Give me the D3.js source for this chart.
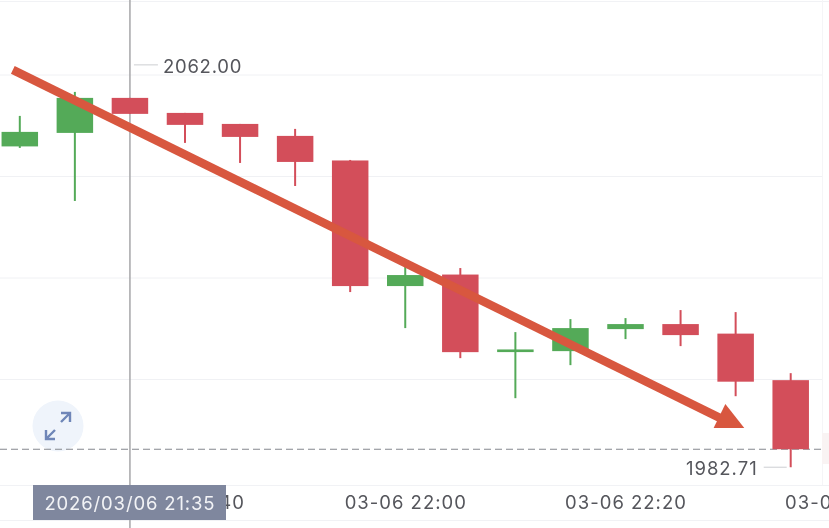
<!DOCTYPE html>
<html>
<head>
<meta charset="utf-8">
<script src="https://cdn.jsdelivr.net/npm/d3@7"></script>
<style>
html,body{margin:0;padding:0;background:#fff;overflow:hidden}
svg{display:block;filter:blur(0.5px)}
text{font-family:Inter,Roboto,sans-serif}
</style>
</head>
<body>
<svg id="chart" width="829" height="528"></svg>
<script>
const times = ["21:25","21:30","21:35","21:40","21:45","21:50","21:55","22:00","22:05","22:10","22:15","22:20","22:25","22:30","22:35"];
const opens  = [2045.93,2048.59,2055.49,2052.53,2050.36,2048.00,2043.16,2018.41,2020.68,2005.40,2005.59,2009.93,2010.92,2009.04,1999.87];
const closes = [2048.79,2055.49,2052.34,2050.17,2047.80,2042.87,2018.41,2020.58,2005.39,2005.92,2010.13,2010.92,2008.75,1999.57,1986.26];
const highs  = [2051.94,2056.67,2055.49,2052.53,2050.36,2049.38,2043.26,2023.14,2021.96,2009.34,2011.90,2012.10,2013.68,2013.28,2001.25];
const lows   = [2045.63,2035.18,2052.34,2046.62,2042.67,2038.13,2017.23,2010.13,2004.21,1996.32,2002.83,2007.96,2006.58,1996.71,1982.71];
const gridPrices = [2060,2040,2020,2000];
const xTickTimes = ["21:40","22:00","22:20","22:40"];
const crosshairTime = "21:35";
const crosshairLabel = "2026/03/06 21:35";
const maxLabel = {time:"21:35", price:2062.00, text:"2062.00"};
const minLabel = {time:"22:35", price:1982.71, text:"1982.71"};
const lastPrice = 1986.26;
const arrowFrom = {time:"21:24:22", price:2061.01};
const arrowTo   = {time:"22:29:04", price:1991.9};
const arrowHead = [{time:"22:29:04", price:1995.17},{time:"22:28:00", price:1990.43},{time:"22:30:47", price:1990.43}];

const parse = t => new Date(`2026-03-06T${t.length===5? t+":00": t}`);
const x = d3.scaleTime().domain([parse("21:25"),parse("22:35")]).range([19.8,790.7]);
const y = d3.scaleLinear().domain([2060,2000]).range([75,379.5]);
const bw = 36.5;
const svg = d3.select("#chart");
const up = "#54aa58", down = "#d34e5a";

// frame lines
const frameY = [1,485,520];
svg.selectAll(".frame").data(frameY).join("line").attr("x1",0).attr("x2",829)
  .attr("y1",d=>d+.5).attr("y2",d=>d+.5).attr("stroke","#f1f2f5").attr("stroke-width",1);
svg.append("line").attr("x1",822.5).attr("x2",822.5).attr("y1",0).attr("y2",485).attr("stroke","#f5f5f7");
svg.append("rect").attr("x",822).attr("y",433).attr("width",7).attr("height",31).attr("fill","#f9f3f3");

// grid
svg.selectAll(".grid").data(gridPrices).join("line").attr("class","grid")
  .attr("x1",0).attr("x2",822).attr("y1",d=>y(d)).attr("y2",d=>y(d))
  .attr("stroke","#f0f1f4").attr("stroke-width",1);

// expand button
const btn = svg.append("g").attr("transform","translate(58,426)");
btn.append("circle").attr("r",25.5).attr("fill","#eff4fb");
btn.append("path").attr("d","M-12,13 L-3,4 M-12,4 V13 H-3 M12,-13 L3,-4 M3,-13 H12 V-4")
  .attr("fill","none").attr("stroke","#6f86b8").attr("stroke-width",2.4);

// last price dashed
svg.append("line").attr("x1",0).attr("x2",822).attr("y1",y(lastPrice)).attr("y2",y(lastPrice))
  .attr("stroke","#85888f").attr("stroke-width",1.1).attr("stroke-dasharray","7 4");

// crosshair
svg.append("line").attr("x1",x(parse(crosshairTime))).attr("x2",x(parse(crosshairTime)))
  .attr("y1",0).attr("y2",528).attr("stroke","#acacae").attr("stroke-width",1.6);

// candles
const candles = d3.range(opens.length).map(i=>({t:parse(times[i]),o:opens[i],c:closes[i],h:highs[i],l:lows[i]}));
const g = svg.selectAll(".candle").data(candles).join("g").attr("class","candle");
const col = d => d.c>=d.o ? up : down;
g.append("line").attr("x1",d=>x(d.t)).attr("x2",d=>x(d.t)).attr("y1",d=>y(d.h)).attr("y2",d=>y(d.l))
  .attr("stroke",col).attr("stroke-width",2);
g.append("rect").attr("x",d=>x(d.t)-bw/2).attr("width",bw)
  .attr("y",d=>y(Math.max(d.o,d.c))).attr("height",d=>Math.max(1.5,Math.abs(y(d.o)-y(d.c))))
  .attr("fill",col);

// x axis
const xAxis = d3.axisBottom(x).tickValues(xTickTimes.map(parse)).tickSize(0)
  .tickFormat(d=>"03-06 "+d3.timeFormat("%H:%M")(d));
const ax = svg.append("g").attr("transform","translate(0,496)").call(xAxis);
ax.select(".domain").remove();
ax.selectAll("text").attr("fill","#55565c").attr("font-size",18.5).attr("dy","0.71em").attr("y",0).style("letter-spacing","1px");

// crosshair label
const lx = x(parse(crosshairTime));
svg.append("rect").attr("x",33).attr("y",485).attr("width",193).attr("height",35).attr("fill","#7f879e");
svg.append("text").attr("x",lx).attr("y",503).attr("text-anchor","middle").attr("dominant-baseline","central")
  .attr("fill","#f2f3f6").attr("font-size",18.5).style("letter-spacing","0.85px").text(crosshairLabel);

// max / min labels
const mx = x(parse(maxLabel.time));
svg.append("line").attr("x1",mx+4).attr("x2",mx+28).attr("y1",y(maxLabel.price)).attr("y2",y(maxLabel.price)).attr("stroke","#d5d6d9").attr("stroke-width",1.2);
svg.append("text").attr("x",mx+33).attr("y",y(maxLabel.price)+1).attr("dominant-baseline","central").attr("fill","#55565c").attr("font-size",18.5).style("letter-spacing","0.75px").text(maxLabel.text);
const nx = x(parse(minLabel.time));
svg.append("line").attr("x1",nx-27).attr("x2",nx-4).attr("y1",y(minLabel.price)).attr("y2",y(minLabel.price)).attr("stroke","#d5d6d9").attr("stroke-width",1.2);
svg.append("text").attr("x",nx-33).attr("y",y(minLabel.price)+1).attr("text-anchor","end").attr("dominant-baseline","central").attr("fill","#55565c").attr("font-size",18.5).style("letter-spacing","1px").text(minLabel.text);

// arrow annotation
const arrow = "#d8573f";
svg.append("line").attr("x1",x(parse(arrowFrom.time))).attr("y1",y(arrowFrom.price))
  .attr("x2",x(parse(arrowTo.time))).attr("y2",y(arrowTo.price)).attr("stroke",arrow).attr("stroke-width",8.5);
svg.append("polygon").attr("points",arrowHead.map(p=>[x(parse(p.time)),y(p.price)].join(",")).join(" ")).attr("fill",arrow);
</script>
</body>
</html>
